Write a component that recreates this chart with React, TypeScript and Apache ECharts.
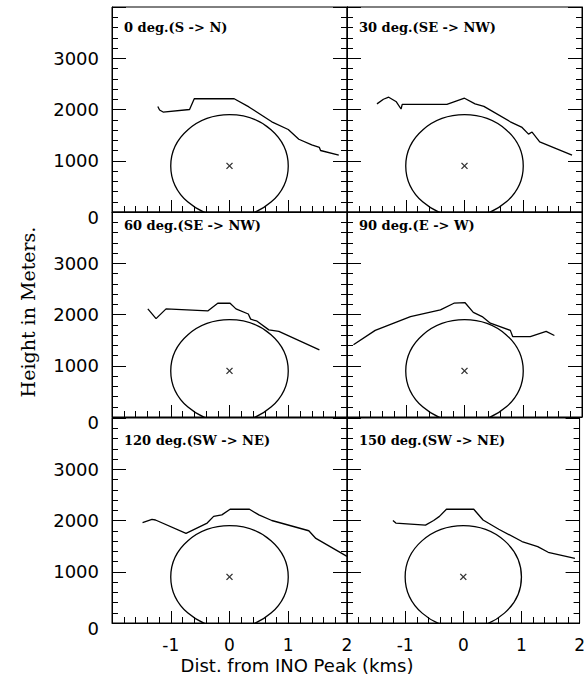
import React, { useEffect, useRef } from "react";
import * as echarts from "echarts";

// Profile titles, one per azimuth panel (row-major order)
const PANEL_TITLES = [
  "0 deg.(S -> N)",
  "30 deg.(SE -> NW)",
  "60 deg.(SE -> NW)",
  "90 deg.(E -> W)",
  "120 deg.(SW -> NE)",
  "150 deg.(SW -> NE)",
];

// Terrain profiles: distance from peak (km) and height (m)
const DIST_0 = [-1.22, -1.19, -1.13, -0.68, -0.6, 0.08, 0.33, 0.72, 1.0, 1.18, 1.4, 1.53, 1.55, 1.86];
const HEIGHT_0 = [2060, 1990, 1950, 2000, 2210, 2210, 2050, 1760, 1610, 1420, 1310, 1260, 1200, 1110];

const DIST_30 = [-1.49, -1.38, -1.29, -1.16, -1.08, -1.06, -0.3, 0.0, 0.18, 0.33, 0.78, 0.98, 1.09, 1.15, 1.28, 1.83];
const HEIGHT_30 = [2110, 2200, 2240, 2150, 2010, 2100, 2100, 2220, 2110, 2060, 1760, 1650, 1520, 1560, 1370, 1110];

const DIST_60 = [-1.39, -1.25, -1.08, -0.37, -0.2, 0.01, 0.11, 0.32, 0.36, 0.47, 0.67, 0.84, 1.53];
const HEIGHT_60 = [2110, 1920, 2110, 2070, 2220, 2220, 2110, 2010, 1910, 1870, 1700, 1670, 1310];

const DIST_90 = [-1.89, -1.52, -0.92, -0.41, -0.18, 0.01, 0.15, 0.3, 0.44, 0.78, 0.82, 1.12, 1.39, 1.53];
const HEIGHT_90 = [1410, 1690, 1960, 2090, 2220, 2230, 2040, 1960, 1830, 1690, 1570, 1570, 1670, 1590];

const DIST_120 = [-1.48, -1.32, -1.26, -0.74, -0.38, -0.27, -0.13, 0.01, 0.34, 0.5, 0.72, 1.35, 1.47, 2.0];
const HEIGHT_120 = [1960, 2020, 2010, 1750, 1950, 2080, 2110, 2220, 2220, 2110, 2000, 1800, 1650, 1300];

const DIST_150 = [-1.21, -1.16, -0.65, -0.51, -0.41, -0.29, 0.18, 0.34, 0.61, 1.01, 1.28, 1.46, 1.92];
const HEIGHT_150 = [2000, 1950, 1910, 2000, 2080, 2220, 2220, 2010, 1830, 1590, 1490, 1380, 1260];

const PROFILE_DIST = [DIST_0, DIST_30, DIST_60, DIST_90, DIST_120, DIST_150];
const PROFILE_HEIGHT = [HEIGHT_0, HEIGHT_30, HEIGHT_60, HEIGHT_90, HEIGHT_120, HEIGHT_150];

// Peak marker and the reference circle around it
const PEAK_DIST = 0;
const PEAK_HEIGHT = 900;
const RADIUS_KM = 1;
const RADIUS_M = 1000;

// Axis ranges
const X_MIN = -2;
const X_MAX = 2;
const Y_MIN = 0;
const Y_MAX = 4000;

// Layout
const COL_LEFT = [112, 347];
const ROW_TOP = [7, 212, 418];
const PANEL_W = 235;
const PANEL_H = 205;
const TITLE_TOP = [21, 219, 434];

const BLACK = "#000";
const TICK_FONT = "DejaVu Sans";

export default function App() {
  const ref = useRef<HTMLDivElement>(null);

  useEffect(() => {
    if (!ref.current) return;
    const chart = echarts.init(ref.current, undefined, { renderer: "svg" });

    const grids: any[] = [];
    const xAxes: any[] = [];
    const yAxes: any[] = [];
    const series: any[] = [];
    const graphics: any[] = [];

    const tickLine = { color: BLACK, width: 1 };

    for (let i = 0; i < 6; i++) {
      const row = Math.floor(i / 2);
      const col = i % 2;
      grids.push({
        left: COL_LEFT[col],
        top: ROW_TOP[row],
        width: PANEL_W,
        height: PANEL_H,
        show: true,
        borderColor: BLACK,
        borderWidth: 1,
      });
      xAxes.push({
        type: "value",
        gridIndex: i,
        min: X_MIN,
        max: X_MAX,
        interval: 1,
        position: "bottom",
        axisLine: { show: true, onZero: false, lineStyle: tickLine },
        axisTick: { show: true, inside: true, length: 12, lineStyle: tickLine },
        minorTick: { show: true, splitNumber: 5, length: 6, lineStyle: tickLine },
        splitLine: { show: false },
        axisLabel: {
          show: row === 2,
          margin: 14,
          color: BLACK,
          fontFamily: TICK_FONT,
          fontSize: 17,
          lineHeight: 16,
          formatter: (v: number) => (v === X_MIN ? "" : String(v)),
        },
      });
      const leftAxis = yAxes.length;
      yAxes.push({
        type: "value",
        gridIndex: i,
        min: Y_MIN,
        max: Y_MAX,
        interval: 1000,
        position: "left",
        axisLine: { show: true, onZero: false, lineStyle: tickLine },
        axisTick: { show: true, inside: true, length: 14, lineStyle: tickLine },
        minorTick: { show: true, splitNumber: 5, length: 6, lineStyle: tickLine },
        splitLine: { show: false },
        axisLabel: {
          show: col === 0,
          margin: 13,
          color: BLACK,
          fontFamily: TICK_FONT,
          fontSize: 18,
          formatter: (v: number) =>
            v === Y_MAX ? "" : v === Y_MIN ? "{zero|" + v + "}" : String(v),
          rich: {
            zero: {
              color: BLACK,
              fontFamily: TICK_FONT,
              fontSize: 18,
              padding: [10, 0, 0, 0],
            },
          },
        },
      });
      // right-hand axis: ticks only
      yAxes.push({
        type: "value",
        gridIndex: i,
        min: Y_MIN,
        max: Y_MAX,
        interval: 1000,
        position: "right",
        axisLine: { show: true, onZero: false, lineStyle: tickLine },
        axisTick: { show: true, inside: true, length: 14, lineStyle: tickLine },
        minorTick: { show: true, splitNumber: 5, length: 6, lineStyle: tickLine },
        splitLine: { show: false },
        axisLabel: { show: false },
      });

      const dist = PROFILE_DIST[i];
      const height = PROFILE_HEIGHT[i];
      series.push({
        type: "line",
        xAxisIndex: i,
        yAxisIndex: leftAxis,
        data: dist.map((d, k) => [d, height[k]]),
        showSymbol: false,
        symbol: "none",
        silent: true,
        lineStyle: { color: BLACK, width: 1.3 },
      });
      series.push({
        type: "custom",
        xAxisIndex: i,
        yAxisIndex: leftAxis,
        clip: true,
        silent: true,
        data: [[PEAK_DIST, PEAK_HEIGHT]],
        renderItem: (_p: any, api: any) => {
          const c = api.coord([PEAK_DIST, PEAK_HEIGHT]);
          const e = api.coord([PEAK_DIST + RADIUS_KM, PEAK_HEIGHT + RADIUS_M]);
          return {
            type: "ellipse",
            shape: {
              cx: c[0],
              cy: c[1],
              rx: Math.abs(e[0] - c[0]),
              ry: Math.abs(c[1] - e[1]),
            },
            style: { fill: "none", stroke: BLACK, lineWidth: 1.3 },
          };
        },
      });
      series.push({
        type: "scatter",
        xAxisIndex: i,
        yAxisIndex: leftAxis,
        data: [[PEAK_DIST, PEAK_HEIGHT]],
        symbol: "path://M0,0L10,10M10,0L0,10",
        symbolSize: 6,
        itemStyle: { color: "none", borderColor: BLACK, borderWidth: 1.4 },
        silent: true,
      });

      graphics.push({
        type: "text",
        left: COL_LEFT[col] + 12,
        top: TITLE_TOP[row],
        style: {
          text: PANEL_TITLES[i],
          fill: BLACK,
          font: "bold 13px 'DejaVu Serif'",
        },
      });
    }

    graphics.push({
      type: "text",
      x: 297,
      y: 665,
      style: {
        text: "Dist. from INO Peak (kms)",
        fill: BLACK,
        font: "18px 'DejaVu Sans'",
        lineHeight: 16,
        textAlign: "center",
        textVerticalAlign: "middle",
      },
    });
    graphics.push({
      type: "text",
      x: 28,
      y: 312,
      rotation: Math.PI / 2,
      style: {
        text: "Height in Meters.",
        fill: BLACK,
        font: "19px 'DejaVu Serif'",
        textAlign: "center",
        textVerticalAlign: "middle",
      },
    });

    chart.setOption({
      animation: false,
      backgroundColor: "#fff",
      grid: grids,
      xAxis: xAxes,
      yAxis: yAxes,
      series,
      graphic: graphics,
    });

    return () => chart.dispose();
  }, []);

  return (
    <div
      ref={ref}
      style={{ position: "fixed", left: 0, top: 0, width: 588, height: 681 }}
    />
  );
}
